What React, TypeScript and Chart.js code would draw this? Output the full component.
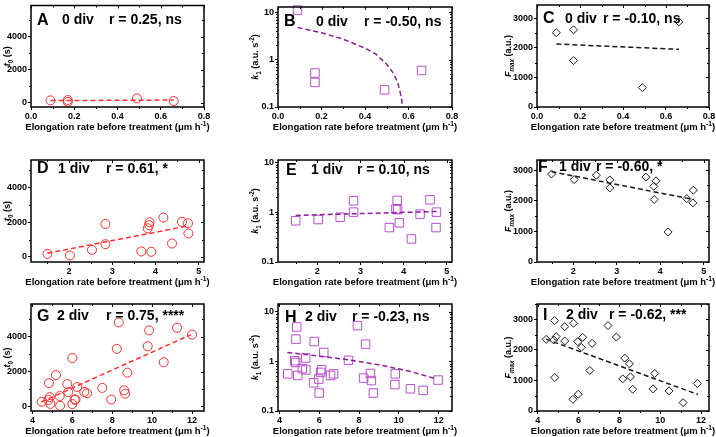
import React, { useEffect, useRef } from 'react';
import { Chart, registerables } from 'chart.js';
Chart.register(...registerables);

// ---------------- DATA ----------------
// 0 div
const rate0 = [0.09, 0.17, 0.17, 0.49, 0.66];
const t0Div0 = [150, 170, 60, 270, 110];
const k1Div0 = [11.1, 0.52, 0.33, 0.23, 0.59];
const fmaxDiv0 = [2510, 2610, 1570, 655, 2880];
const fitA_x = [0.09, 0.66];
const fitA_y = [135, 170];
const fitB_x = [0.09, 0.2, 0.3, 0.4, 0.45, 0.5, 0.53, 0.55, 0.56, 0.568, 0.573];
const fitB_y = [4.75, 3.7, 2.7, 1.75, 1.3, 0.8, 0.52, 0.33, 0.22, 0.15, 0.1];
const fitC_x = [0.09, 0.66];
const fitC_y = [2130, 1950];

// 1 div
const rate1 = [1.5, 2.02, 2.53, 2.84, 2.84, 3.67, 3.82, 3.85, 3.86, 3.9, 4.18, 4.38, 4.61, 4.75, 4.76];
const t0Div1 = [170, 80, 400, 1900, 730, 310, 1650, 1830, 2000, 290, 2270, 770, 2020, 1940, 1350];
const k1Div1 = [0.67, 0.71, 0.79, 1.69, 1.0, 0.49, 1.15, 1.72, 1.12, 0.61, 0.29, 0.91, 1.77, 0.49, 1.0];
const rate1F = [1.5, 2.02, 2.53, 2.84, 2.84, 3.67, 3.85, 3.86, 3.9, 4.18, 4.61, 4.75, 4.76];
const fmaxDiv1 = [2870, 2690, 2835, 2680, 2420, 2770, 2470, 2040, 2650, 980, 2070, 1930, 2345];
const fitD_x = [1.5, 4.76];
const fitD_y = [210, 1790];
const fitE_x = [1.5, 4.76];
const fitE_y = [0.86, 1.03];
const fitF_x = [1.5, 4.76];
const fitF_y = [2950, 2040];

// 2 div
const rate2G = [4.47, 4.8, 4.83, 4.87, 4.9, 5.18, 5.37, 5.39, 5.75, 5.8, 6.0, 6.0, 6.12, 6.16, 6.25, 6.6, 6.74, 7.5, 7.95, 8.23, 8.33, 8.6, 8.65, 8.76, 9.78, 9.85, 10.58, 11.25, 12.0];
const t0Div2 = [260, 360, 1330, 530, 140, 1800, 590, 30, 1280, 815, 2780, 130, 380, 400, 1110, 825, 750, 1060, 390, 3310, 4830, 920, 730, 1940, 3460, 4370, 2540, 4520, 4130];
const rate2H = [4.42, 4.77, 4.82, 4.83, 4.87, 4.92, 5.15, 5.32, 5.33, 5.72, 5.75, 5.98, 6.0, 6.07, 6.12, 6.23, 6.57, 6.72, 7.47, 7.92, 8.23, 8.33, 8.57, 8.62, 8.72, 9.8, 9.82, 10.58, 11.22, 11.97];
const k1Div2 = [0.56, 1.03, 0.95, 2.8, 4.93, 0.52, 0.71, 1.17, 0.67, 0.37, 2.51, 0.44, 0.23, 0.6, 0.68, 1.51, 0.52, 0.56, 1.05, 5.25, 0.46, 2.22, 0.57, 0.41, 0.23, 0.34, 0.56, 0.28, 0.26, 0.42];
const rate2I = [4.41, 4.78, 4.82, 4.83, 4.9, 5.32, 5.32, 5.72, 5.75, 5.96, 5.98, 6.13, 6.2, 6.55, 6.66, 7.44, 7.85, 8.16, 8.26, 8.49, 8.54, 8.65, 9.65, 9.73, 10.43, 11.12, 11.82];
const fmaxDiv2 = [2344, 2322, 2957, 1095, 2431, 2760, 2290, 383, 2870, 2267, 548, 2081, 2410, 1325, 2212, 2793, 2420, 1051, 1731, 1544, 1117, 712, 723, 1227, 657, 274, 898];
const fitG_x = [4.45, 11.95];
const fitG_y = [250, 4130];
const fitH_x = [4.4, 6, 7.5, 9, 10.5, 11.9];
const fitH_y = [1.51, 1.28, 1.07, 0.85, 0.64, 0.44];
const fitI_x = [4.4, 11.85];
const fitI_y = [2350, 540];

// tick labels
const xTicks0 = [0, 0.2, 0.4, 0.6, 0.8];
const xTicks1 = [2, 3, 4, 5];
const xTicks2 = [4, 6, 8, 10, 12];
const yTicksT0 = [0, 2000, 4000];
const yTicksK1 = [0.1, 1, 10];
const yTicksF = [0, 1000, 2000, 3000];

// ---------------- LAYOUT / STYLE ----------------
const FONT = '"Liberation Sans", Arial, Helvetica, sans-serif';
const NARROW = '"Liberation Sans Narrow", "Liberation Sans", Arial, sans-serif';
const COL_LEFT = [0, 238, 476];
const COL_W = [238, 238, 240];
const ROW_TOP = [0, 145, 290];
const ROW_H = [145, 145, 147];
const PLOT_L = [31, 278, 537];
const PLOT_R = [204, 452, 709];
const PLOT_T = [2, 160, 304];
const PLOT_B = [107, 262, 411];
const YTITLE_OFF = [24, 23, 29];

const RED = 'rgb(255,45,45)';
const PURPLE_PT = 'rgb(185,80,205)';
const PURPLE_LN = 'rgb(140,30,150)';
const DARK = 'rgb(25,25,25)';

type Seg = { t: string; it?: boolean; sub?: boolean; sup?: boolean };

const T0_TITLE: Seg[] = [{ t: 't', it: true }, { t: '0', sub: true }, { t: ' (s)' }];
const K1_TITLE: Seg[] = [{ t: 'k', it: true }, { t: '1', sub: true }, { t: ' (a.u. s' }, { t: '-2', sup: true }, { t: ')' }];
const F_TITLE: Seg[] = [{ t: 'F', it: true }, { t: 'max', sub: true, it: true }, { t: ' (a.u.)' }];
const X_TITLE: Seg[] = [{ t: 'Elongation rate before treatment (\u03bcm h' }, { t: '-1', sup: true }, { t: ')' }];

function drawRich(ctx: CanvasRenderingContext2D, segs: Seg[], cx: number, cy: number, fs: number, vertical: boolean) {
  const parts = segs.map((s) => {
    const size = s.sub || s.sup ? fs * 0.7 : fs;
    const font = `${s.it ? 'italic ' : ''}bold ${size}px ${FONT}`;
    ctx.font = font;
    const w = ctx.measureText(s.t).width;
    const dy = s.sub ? fs * 0.3 : s.sup ? -fs * 0.42 : 0;
    return { s, font, w, dy };
  });
  const total = parts.reduce((a, p) => a + p.w, 0);
  ctx.save();
  ctx.translate(cx, cy);
  if (vertical) ctx.rotate(-Math.PI / 2);
  ctx.textBaseline = 'alphabetic';
  ctx.textAlign = 'left';
  ctx.fillStyle = '#000';
  let x = -total / 2;
  const base = fs * 0.36;
  for (const p of parts) {
    ctx.font = p.font;
    ctx.fillText(p.s.t, x, base + p.dy);
    x += p.w;
  }
  ctx.restore();
}

interface PanelCfg {
  letter: string;
  div: string;
  rText: string;
  col: number;
  row: number;
  kind: 't0' | 'k1' | 'fmax';
  xs: number[];
  ys: number[];
  fx: number[];
  fy: number[];
  xMin: number;
  xMax: number;
  yMin: number;
  yMax: number;
  xTicks: number[];
  xDec: number;
  xMinor: number;
  labelX: [number, number, number];
  labelY: number;
}

const panels: PanelCfg[] = [
  { letter: 'A', div: '0 div', rText: 'r = 0.25, ns', col: 0, row: 0, kind: 't0', xs: rate0, ys: t0Div0, fx: fitA_x, fy: fitA_y, xMin: 0, xMax: 0.8, yMin: -250, yMax: 5870, xTicks: xTicks0, xDec: 1, xMinor: 0.1, labelX: [6, 31, 78], labelY: 13.5 },
  { letter: 'B', div: '0 div', rText: 'r = -0.50, ns', col: 1, row: 0, kind: 'k1', xs: rate0, ys: k1Div0, fx: fitB_x, fy: fitB_y, xMin: 0, xMax: 0.8, yMin: 0.1, yMax: 12.9, xTicks: xTicks0, xDec: 1, xMinor: 0.1, labelX: [6, 38, 86], labelY: 13.5 },
  { letter: 'C', div: '0 div', rText: 'r = -0.10, ns', col: 2, row: 0, kind: 'fmax', xs: rate0, ys: fmaxDiv0, fx: fitC_x, fy: fitC_y, xMin: 0, xMax: 0.8, yMin: 0, yMax: 3450, xTicks: xTicks0, xDec: 1, xMinor: 0.1, labelX: [6, 28, 66], labelY: 12.5 },
  { letter: 'D', div: '1 div', rText: 'r = 0.61, *', col: 0, row: 1, kind: 't0', xs: rate1, ys: t0Div1, fx: fitD_x, fy: fitD_y, xMin: 1.12, xMax: 5.12, yMin: -300, yMax: 5600, xTicks: xTicks1, xDec: 0, xMinor: 0.5, labelX: [6, 27, 75], labelY: 7.5 },
  { letter: 'E', div: '1 div', rText: 'r = 0.10, ns', col: 1, row: 1, kind: 'k1', xs: rate1, ys: k1Div1, fx: fitE_x, fy: fitE_y, xMin: 1.09, xMax: 5.12, yMin: 0.1, yMax: 11.1, xTicks: xTicks1, xDec: 0, xMinor: 0.5, labelX: [8, 33, 79], labelY: 8.8 },
  { letter: 'F', div: '1 div', rText: 'r = -0.60, *', col: 2, row: 1, kind: 'fmax', xs: rate1F, ys: fmaxDiv1, fx: fitF_x, fy: fitF_y, xMin: 1.165, xMax: 5.12, yMin: 0, yMax: 3330, xTicks: xTicks1, xDec: 0, xMinor: 0.5, labelX: [1, 22, 59], labelY: 6 },
  { letter: 'G', div: '2 div', rText: 'r = 0.75, ****', col: 0, row: 2, kind: 't0', xs: rate2G, ys: t0Div2, fx: fitG_x, fy: fitG_y, xMin: 3.93, xMax: 12.6, yMin: -270, yMax: 5890, xTicks: xTicks2, xDec: 0, xMinor: 1, labelX: [6, 26, 75], labelY: 11 },
  { letter: 'H', div: '2 div', rText: 'r = -0.23, ns', col: 1, row: 2, kind: 'k1', xs: rate2H, ys: k1Div2, fx: fitH_x, fy: fitH_y, xMin: 3.93, xMax: 12.67, yMin: 0.1, yMax: 14.3, xTicks: xTicks2, xDec: 0, xMinor: 1, labelX: [7, 27, 74], labelY: 12 },
  { letter: 'I', div: '2 div', rText: 'r = -0.62, ***', col: 2, row: 2, kind: 'fmax', xs: rate2I, ys: fmaxDiv2, fx: fitI_x, fy: fitI_y, xMin: 3.96, xMax: 12.39, yMin: 0, yMax: 3500, xTicks: xTicks2, xDec: 0, xMinor: 1, labelX: [6, 29, 72], labelY: 10 },
];

const TICK_FONT = { family: NARROW, size: 9, weight: 'bold' as const };

function Panel({ cfg }: { cfg: PanelCfg }) {
  const ref = useRef<HTMLCanvasElement>(null);
  const c = cfg.col;
  const r = cfg.row;
  const w = COL_W[c];
  const h = ROW_H[r];

  useEffect(() => {
    const isLog = cfg.kind === 'k1';
    const yTicks = cfg.kind === 't0' ? yTicksT0 : cfg.kind === 'k1' ? yTicksK1 : yTicksF;
    const yMinor = cfg.kind === 't0' ? 1000 : 500;
    const ptColor = cfg.kind === 't0' ? RED : cfg.kind === 'k1' ? PURPLE_PT : DARK;
    const lnColor = cfg.kind === 't0' ? RED : cfg.kind === 'k1' ? PURPLE_LN : DARK;
    const ptStyle = cfg.kind === 't0' ? 'circle' : cfg.kind === 'k1' ? 'rect' : 'rectRot';
    const ptRadius = cfg.kind === 't0' ? 4.5 : cfg.kind === 'k1' ? 6 : 4;
    const yTitle = cfg.kind === 't0' ? T0_TITLE : cfg.kind === 'k1' ? K1_TITLE : F_TITLE;

    const overlay = {
      id: 'overlay' + cfg.letter,
      afterDraw(chart: any) {
        const ctx: CanvasRenderingContext2D = chart.ctx;
        const a = chart.chartArea;
        const xs = chart.scales.x;
        const ys = chart.scales.y;
        ctx.save();
        ctx.strokeStyle = '#000';
        ctx.lineWidth = 1;
        const xMaj = cfg.xTicks;
        const xMin: number[] = [];
        for (let v = Math.ceil(cfg.xMin / cfg.xMinor) * cfg.xMinor; v <= cfg.xMax + 1e-9; v += cfg.xMinor) {
          if (!xMaj.some((m) => Math.abs(m - v) < 1e-6)) xMin.push(v);
        }
        const yMinArr: number[] = [];
        if (isLog) {
          for (const d of [0.1, 1, 10]) for (let m = 2; m <= 9; m++) { const v = m * d; if (v > cfg.yMin && v < cfg.yMax) yMinArr.push(v); }
        } else {
          for (let v = Math.ceil(cfg.yMin / yMinor) * yMinor; v <= cfg.yMax; v += yMinor) {
            if (!yTicks.some((m) => Math.abs(m - v) < 1e-6)) yMinArr.push(v);
          }
        }
        ctx.beginPath();
        for (const v of xMaj) {
          const px = Math.round(xs.getPixelForValue(v)) + 0.5;
          ctx.moveTo(px, a.top); ctx.lineTo(px, a.top + 3);
        }
        for (const v of xMin) {
          const px = Math.round(xs.getPixelForValue(v)) + 0.5;
          ctx.moveTo(px, a.top); ctx.lineTo(px, a.top + 2);
          ctx.moveTo(px, a.bottom); ctx.lineTo(px, a.bottom + 2);
        }
        for (const v of yTicks) {
          const py = Math.round(ys.getPixelForValue(v)) + 0.5;
          ctx.moveTo(a.right, py); ctx.lineTo(a.right - 3, py);
        }
        for (const v of yMinArr) {
          const py = Math.round(ys.getPixelForValue(v)) + 0.5;
          ctx.moveTo(a.right, py); ctx.lineTo(a.right - 2, py);
          ctx.moveTo(a.left, py); ctx.lineTo(a.left - 2, py);
        }
        ctx.stroke();
        ctx.lineWidth = 1.5;
        ctx.strokeRect(a.left, a.top, a.right - a.left, a.bottom - a.top);
        ctx.fillStyle = '#000';
        ctx.textBaseline = 'alphabetic';
        ctx.textAlign = 'left';
        const yc = a.top + cfg.labelY;
        ctx.font = `bold 16px ${FONT}`;
        ctx.fillText(cfg.letter, a.left + cfg.labelX[0], yc + 5.8);
        ctx.font = `bold 14px ${FONT}`;
        ctx.fillText(cfg.div, a.left + cfg.labelX[1], yc + 5);
        ctx.fillText(cfg.rText, a.left + cfg.labelX[2], yc + 5);
        drawRich(ctx, yTitle, a.left - YTITLE_OFF[c], (a.top + a.bottom) / 2, 9, true);
        drawRich(ctx, X_TITLE, (a.left + a.right) / 2, a.bottom + 20, 9.5, false);
        ctx.restore();
      },
    };

    const chart = new Chart(ref.current as HTMLCanvasElement, {
      type: 'scatter',
      data: {
        datasets: [
          {
            data: cfg.fx.map((v, i) => ({ x: v, y: cfg.fy[i] })),
            showLine: true,
            pointRadius: 0,
            borderColor: lnColor,
            borderWidth: 1.5,
            borderDash: [5, 3],
            fill: false,
            clip: false as any,
          },
          {
            data: cfg.xs.map((v, i) => ({ x: v, y: cfg.ys[i] })),
            showLine: false,
            pointStyle: ptStyle as any,
            pointRadius: ptRadius,
            pointBorderWidth: 1,
            borderColor: ptColor,
            backgroundColor: 'rgba(0,0,0,0)',
            clip: false as any,
          },
        ],
      },
      options: {
        animation: false,
        responsive: false,
        maintainAspectRatio: false,
        devicePixelRatio: 1,
        events: [],
        layout: {
          padding: {
            left: 0,
            top: PLOT_T[r] - ROW_TOP[r],
            right: COL_LEFT[c] + COL_W[c] - PLOT_R[c],
            bottom: 0,
          },
        },
        plugins: { legend: { display: false }, tooltip: { enabled: false } },
        scales: {
          x: {
            type: 'linear',
            min: cfg.xMin,
            max: cfg.xMax,
            border: { display: false },
            grid: { display: true, drawOnChartArea: false, drawTicks: true, tickLength: 3, color: '#000', lineWidth: 1 },
            ticks: {
              font: TICK_FONT,
              color: '#000',
              padding: 1,
              maxRotation: 0,
              autoSkip: false,
              callback: (v: any) => Number(v).toFixed(cfg.xDec),
            },
            afterBuildTicks: (s: any) => {
              s.ticks = cfg.xTicks.map((v) => ({ value: v }));
            },
            afterFit: (s: any) => {
              s.height = ROW_TOP[r] + ROW_H[r] - PLOT_B[r];
              s.paddingLeft = 0;
              s.paddingRight = 0;
            },
          },
          y: {
            type: isLog ? 'logarithmic' : 'linear',
            min: cfg.yMin,
            max: cfg.yMax,
            border: { display: false },
            grid: { display: true, drawOnChartArea: false, drawTicks: true, tickLength: 3, color: '#000', lineWidth: 1 },
            ticks: {
              font: TICK_FONT,
              color: '#000',
              padding: 1,
              autoSkip: false,
              callback: (v: any) => String(Number(v)),
            },
            afterBuildTicks: (s: any) => {
              s.ticks = yTicks.map((v) => ({ value: v }));
            },
            afterFit: (s: any) => {
              s.width = PLOT_L[c] - COL_LEFT[c];
              s.paddingTop = 0;
              s.paddingBottom = 0;
            },
          } as any,
        },
      },
      plugins: [overlay],
    } as any);
    return () => chart.destroy();
  }, []);

  return (
    <canvas
      ref={ref}
      width={w}
      height={h}
      style={{ position: 'absolute', left: COL_LEFT[c], top: ROW_TOP[r], width: w, height: h }}
    />
  );
}

export default function App() {
  return (
    <div style={{ position: 'absolute', left: 0, top: 0, width: 716, height: 437, background: '#fff', overflow: 'hidden' }}>
      {panels.map((p) => (
        <Panel key={p.letter} cfg={p} />
      ))}
    </div>
  );
}
